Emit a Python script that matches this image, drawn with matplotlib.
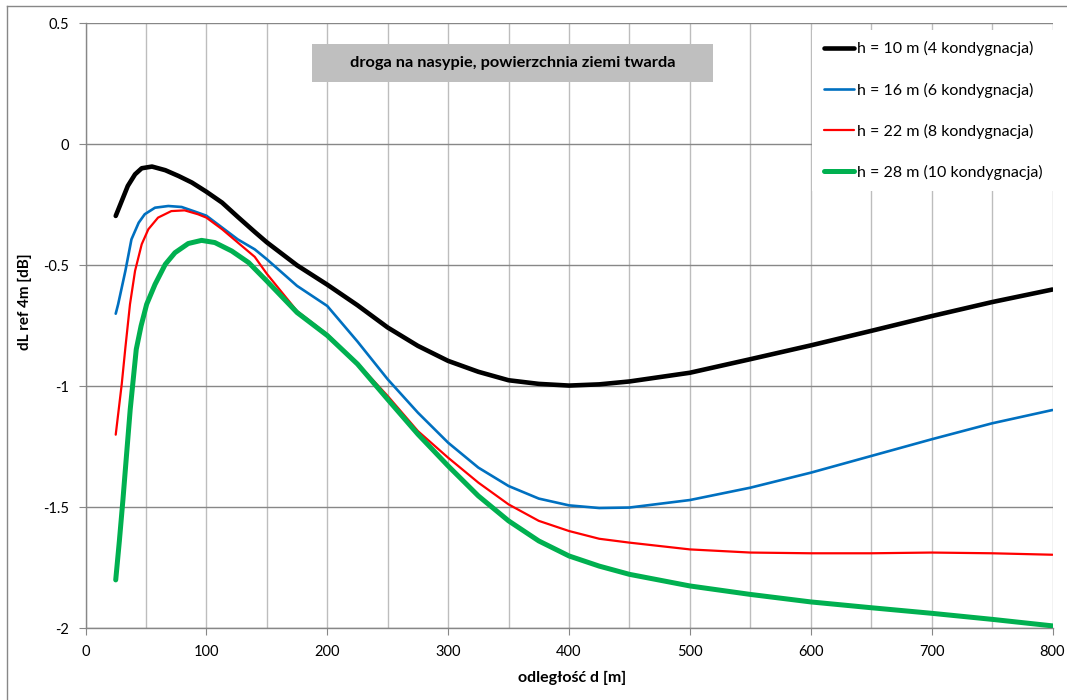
import matplotlib
matplotlib.use("Agg")
import matplotlib.pyplot as plt
from matplotlib.lines import Line2D
from matplotlib.patches import Rectangle

plt.rcParams['font.family'] = ['Lato', 'DejaVu Sans']

# ---- data ----
x_h10 = [25, 30, 35, 41, 46.5, 55, 66, 77, 88, 100, 113, 126, 140, 150, 175, 200, 225, 250, 275,
         300, 325, 350, 375, 400, 425, 450, 500, 550, 600, 650, 700, 750, 800]
y_h10 = [-0.296, -0.234, -0.172, -0.124, -0.099, -0.092, -0.107, -0.131, -0.158, -0.196, -0.241,
         -0.30, -0.362, -0.405, -0.50, -0.58, -0.665, -0.757, -0.833, -0.895, -0.94, -0.975,
         -0.99, -0.997, -0.992, -0.98, -0.944, -0.888, -0.831, -0.771, -0.71, -0.652, -0.60]

x_h16 = [25, 27, 33, 38, 44, 49, 57.5, 68.5, 79.5, 90.5, 100, 113, 126, 140, 150, 175, 200, 225,
         250, 275, 300, 325, 350, 375, 400, 425, 450, 500, 550, 600, 650, 700, 750, 800]
y_h16 = [-0.70, -0.661, -0.523, -0.393, -0.324, -0.289, -0.262, -0.255, -0.259, -0.278, -0.295,
         -0.344, -0.393, -0.434, -0.475, -0.585, -0.668, -0.815, -0.971, -1.109, -1.233, -1.336,
         -1.412, -1.464, -1.492, -1.503, -1.501, -1.47, -1.419, -1.357, -1.288, -1.219, -1.153,
         -1.098]

x_h22 = [25, 30, 33, 36.8, 41, 46.5, 52, 60, 71, 82, 93, 100, 113, 126, 140, 150, 175, 200, 225,
         250, 275, 300, 325, 350, 375, 400, 425, 450, 500, 550, 600, 650, 700, 750, 800]
y_h22 = [-1.20, -0.99, -0.84, -0.661, -0.523, -0.413, -0.351, -0.303, -0.276, -0.273, -0.289,
         -0.303, -0.351, -0.406, -0.465, -0.535, -0.689, -0.785, -0.905, -1.04, -1.185, -1.295,
         -1.398, -1.488, -1.556, -1.598, -1.63, -1.646, -1.674, -1.687, -1.69, -1.69, -1.687,
         -1.69, -1.696]

x_h28 = [25, 28, 31, 34, 37, 42, 46, 50.6, 57.5, 66, 74, 85, 96, 107, 121, 135, 150, 175, 200,
         225, 250, 275, 300, 325, 350, 375, 400, 425, 450, 500, 550, 600, 650, 700, 750, 800]
y_h28 = [-1.80, -1.64, -1.467, -1.28, -1.095, -0.847, -0.75, -0.661, -0.579, -0.496, -0.448,
         -0.41, -0.397, -0.406, -0.441, -0.489, -0.565, -0.695, -0.79, -0.908, -1.054, -1.198,
         -1.329, -1.453, -1.556, -1.639, -1.701, -1.743, -1.777, -1.825, -1.86, -1.891, -1.915,
         -1.938, -1.963, -1.99]

labels = ["h = 10 m (4 kondygnacja)", "h = 16 m (6 kondygnacja)",
          "h = 22 m (8 kondygnacja)", "h = 28 m (10 kondygnacja)"]
colors = ["#000000", "#0070C0", "#FF0000", "#00B050"]
widths = [3.3, 1.9, 1.6, 3.6]

x_ticks = [0, 100, 200, 300, 400, 500, 600, 700, 800]
y_ticks = [-2, -1.5, -1, -0.5, 0, 0.5]
y_tick_labels = ["-2", "-1.5", "-1", "-0.5", "0", "0.5"]

title_text = "droga na nasypie, powierzchnia ziemi twarda"
xlabel = "odległość d [m]"
ylabel = "dL ref 4m [dB]"

# ---- figure ----
W, H = 1067, 700
fig = plt.figure(figsize=(W / 100, H / 100), dpi=100)
left, right, top, bottom = 85.5, 1052.5, 23.3, 628.3
ax = fig.add_axes([left / W, 1 - bottom / H, (right - left) / W, (bottom - top) / H])

series = [(x_h10, y_h10), (x_h16, y_h16), (x_h22, y_h22), (x_h28, y_h28)]
for (xs, ys), lab, c, lw in zip(series, labels, colors, widths):
    ax.plot(xs, ys, color=c, lw=lw, label=lab, solid_capstyle='round',
            solid_joinstyle='round', zorder=3)

ax.set_xlim(0, 800)
ax.set_ylim(-2, 0.5)
ax.set_xticks(x_ticks)
ax.set_xticks(list(range(50, 800, 100)), minor=True)
ax.set_yticks(y_ticks)
ax.set_yticklabels(y_tick_labels)

ax.grid(True, axis='x', which='both', color='#BDBDBD', lw=1.0, zorder=0)
ax.grid(True, axis='y', which='major', color='#878787', lw=1.0, zorder=0)
ax.set_axisbelow(True)
ax.tick_params(axis='x', which='minor', length=0)
ax.tick_params(axis='both', which='major', direction='out', color='#878787',
               labelsize=10.5, labelcolor='#000000')
ax.tick_params(axis='y', length=5, pad=7)
ax.tick_params(axis='x', length=5, pad=7)
for s in ['top', 'right']:
    ax.spines[s].set_visible(False)
for s in ['left', 'bottom']:
    ax.spines[s].set_color('#878787')
    ax.spines[s].set_linewidth(1.0)

# legend
leg = ax.legend(loc='upper right', bbox_to_anchor=(1054 / W, 1 - 30 / H),
                bbox_transform=fig.transFigure, frameon=True, fancybox=False,
                edgecolor='none', facecolor='white', framealpha=1.0,
                fontsize=11.5, handlelength=1.9, handletextpad=0.2,
                labelspacing=1.64, borderpad=0.7, borderaxespad=0)
leg.set_zorder(5)

# title box
fig.patches.append(Rectangle((311.7 / W, 1 - 81.7 / H), 401.6 / W, 37.7 / H,
                             transform=fig.transFigure, facecolor='#BFBFBF',
                             edgecolor='none', zorder=4))
fig.text(512.5 / W, 1 - 63 / H, title_text, ha='center', va='center',
         fontsize=11.8, fontweight='bold', zorder=6)

# axis labels
fig.text(572 / W, 1 - 677.5 / H, xlabel, ha='center', va='center',
         fontsize=11.5, fontweight='bold')
fig.text(25 / W, 1 - 302 / H, ylabel, ha='center', va='center', rotation=90,
         fontsize=11, fontweight='bold')

# outer chart border (left and top visible)
fig.add_artist(Line2D([7 / W, 7 / W], [0, 1 - 6 / H], transform=fig.transFigure,
                      color='#878787', lw=1.0))
fig.add_artist(Line2D([7 / W, 1], [1 - 6 / H, 1 - 6 / H], transform=fig.transFigure,
                      color='#878787', lw=1.0))

fig.savefig("out.png", dpi=100)
